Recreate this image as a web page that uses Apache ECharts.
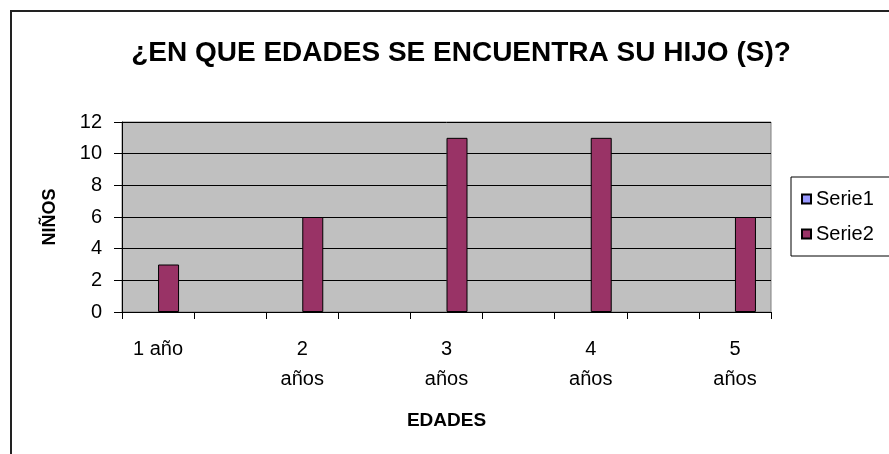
<!DOCTYPE html>
<html>
<head>
<meta charset="utf-8">
<script src="https://cdn.jsdelivr.net/npm/echarts@6/dist/echarts.min.js"></script>
<style>
    html, body { margin: 0; padding: 0; background: #fff; }
    #chart { width: 889px; height: 454px; }
</style>
</head>
<body>
<div id="chart"></div>
<script>
// datos
const edades = ["1 año", "", "2\naños", "", "3\naños", "", "4\naños", "", "5\naños"]
const serie1 = [null, null, null, null, null, null, null, null, null]
const serie2 = [3, null, 6, null, 11, null, 11, null, 6]
const yTicks = { min: 0, max: 12, step: 2 }

const FONT = "'Liberation Sans', Arial, sans-serif"

const chart = echarts.init(document.getElementById("chart"), null, { renderer: "canvas" })

const option = {
    animation: false,
    backgroundColor: "#fff",
    textStyle: { fontFamily: FONT, color: "#000" },
    title: {
        text: "¿EN QUE EDADES SE ENCUENTRA SU HIJO (S)?",
        left: 456,
        top: 34,
        textAlign: "center",
        textStyle: { fontFamily: FONT, fontSize: 28, fontWeight: "bold", color: "#000" }
    },
    graphic: [{
        // marco exterior del grafico
        type: "rect",
        shape: { x: 11, y: 11, width: 1000, height: 1000 },
        style: { fill: "none", stroke: "#222", lineWidth: 2 },
        silent: true
    }],
    legend: {
        orient: "vertical",
        left: 791,
        top: 177,
        padding: [12, 30, 12, 10],
        itemWidth: 9,
        itemHeight: 9,
        itemGap: 15,
        borderColor: "#000",
        borderWidth: 1,
        icon: "rect",
        textStyle: { fontFamily: FONT, fontSize: 20, color: "#000" },
        data: ["Serie1", "Serie2"]
    },
    grid: {
        left: 122,
        top: 122,
        width: 649,
        height: 190,
        show: true,
        backgroundColor: "#C0C0C0",
        borderColor: "#808080",
        borderWidth: 1
    },
    xAxis: {
        type: "category",
        data: edades,
        name: "EDADES",
        nameLocation: "middle",
        nameGap: 99,
        nameTextStyle: { fontFamily: FONT, fontSize: 19, fontWeight: "bold", color: "#000" },
        axisLine: { lineStyle: { color: "#000", width: 1 } },
        axisTick: { show: true, interval: 0, length: 7, lineStyle: { color: "#000" } },
        axisLabel: {
            interval: 0,
            margin: 22,
            fontFamily: FONT,
            fontSize: 20,
            lineHeight: 30,
            color: "#000",
            verticalAlign: "top"
        }
    },
    yAxis: {
        type: "value",
        min: yTicks.min,
        max: yTicks.max,
        interval: yTicks.step,
        name: "NIÑOS",
        nameLocation: "middle",
        nameRotate: 90,
        nameGap: 63,
        nameTextStyle: { fontFamily: FONT, fontSize: 18, fontWeight: "bold", color: "#000" },
        axisLine: { show: true, lineStyle: { color: "#000", width: 1 } },
        axisTick: { show: true, length: 8, lineStyle: { color: "#000" } },
        axisLabel: { margin: 20, fontFamily: FONT, fontSize: 20, color: "#000" },
        splitLine: { show: true, lineStyle: { color: "#000", width: 1 } }
    },
    series: [
        {
            name: "Serie1",
            type: "bar",
            data: serie1,
            barWidth: 21,
            barGap: "0%",
            itemStyle: { color: "#9999FF", borderColor: "#000", borderWidth: 1 }
        },
        {
            name: "Serie2",
            type: "bar",
            data: serie2,
            barWidth: 21,
            barGap: "0%",
            itemStyle: { color: "#993366", borderColor: "#000", borderWidth: 1 }
        }
    ]
}

chart.setOption(option)
</script>
</body>
</html>
